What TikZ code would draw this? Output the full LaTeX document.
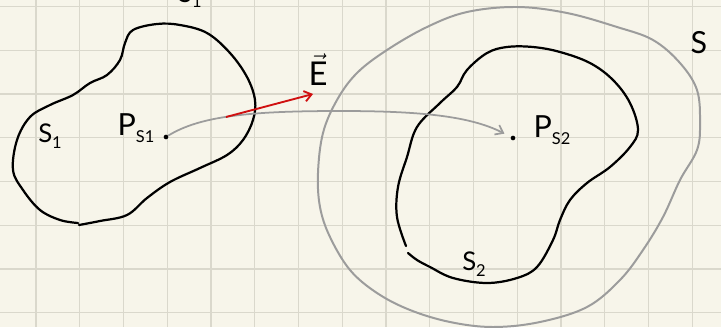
\documentclass[tikz,border=0pt]{standalone}
\usepackage{fontspec}
\setmainfont{Lato}
\usepackage{tikz}
\usetikzlibrary{arrows.meta}
\definecolor{paper}{HTML}{F7F5EA}
\definecolor{gridc}{HTML}{DAD8CC}
\definecolor{pencil}{HTML}{9C9C9C}
\definecolor{vecred}{HTML}{D01010}
\newcommand{\lowidx}[1]{\raisebox{-0.45ex}{\fontsize{14}{14}\selectfont #1}}

\begin{document}
\begin{tikzpicture}[
  x=0.03cm, y=-0.03cm,
  gridline/.style={draw=gridc, line width=0.9pt},
  rim/.style={line width=1.9pt, line cap=round, line join=round},
  outer/.style={draw=pencil, line width=1.7pt, line join=round},
  lbl/.style={font=\fontsize{22}{24}\selectfont, inner sep=0pt},
  big/.style={lbl, font=\fontsize{26}{28}\selectfont},
  pt/.style={circle, fill=black, inner sep=0pt, minimum size=4pt},
  flux/.style={-{Straight Barb[length=6pt,width=9pt]}, draw=pencil, line width=1.5pt},
  field/.style={-{Straight Barb[length=6pt,width=9pt]}, draw=vecred, line width=1.6pt},
]
\clip (0,0) rectangle (721,327);
\fill[paper] (0,0) rectangle (721,327);
% squared paper
\foreach \i in {0,...,15} \draw[gridline] ({36+43.75*\i},0) -- ++(0,327);
\foreach \j in {0,...,7} \draw[gridline] (0,{6.5+43.75*\j}) -- ++(721,0);

% big closed surface S
\draw[outer] plot[smooth cycle, tension=0.6] coordinates {
  (517,7) (567,13) (617,27) (653,40) (680,63) (697,90) (700,123) (697,150)
  (680,180) (663,217) (643,250) (620,280) (587,307) (540,322) (493,327)
  (450,322) (410,310) (377,293) (350,270) (330,237) (320,207) (318,173)
  (323,133) (337,100) (357,73) (387,50) (427,27) (467,12)};

% surface S1
\draw[rim] plot[smooth, tension=0.6] coordinates {
  (79,225) (100,221) (127,215) (147,198) (170,182) (200,168) (227,155)
  (243,140) (253,120) (255,100) (247,77) (230,53) (207,33) (180,25)
  (157,24) (133,30) (125,43) (120,60) (107,75) (90,83) (73,95) (50,105)
  (30,117) (17,140) (13,170) (23,190) (40,210) (60,220) (78,223)};

% surface S2
\draw[rim] plot[smooth, tension=0.6] coordinates {
  (406,246) (397,217) (398,187) (407,157) (417,127) (440,103) (457,87)
  (467,70) (487,53) (507,47) (533,47) (560,52) (590,63) (613,80) (630,103)
  (638,130) (630,147) (610,167) (587,183) (570,200) (560,220) (553,240)
  (537,267) (517,278) (487,283) (453,278) (430,267) (417,260) (408,253)};

\node[pt] (ps1) at (166,137) {};
\node[pt] (ps2) at (513,138) {};
\coordinate (etail) at (226,117);
\coordinate (ehead) at (313,94);

\draw[flux, shorten >=6pt] (ps1) .. controls (200,116) and (250,111) .. (340,111)
  .. controls (420,111) and (470,116) .. (ps2);
\draw[field] (etail) -- (ehead);

\node[lbl] (s1) at (50,136) {S\lowidx{1}};
\node[big] (ps1lbl) at (136,128) {P\lowidx{S1}};
\node[big] (ps2lbl) at (552,130) {P\lowidx{S2}};
\node[lbl] (s2) at (474,264) {S\lowidx{2}};
\node[big] (s) at (699,43) {S};
\node[big, font=\fontsize{28}{30}\selectfont] (e) at (318,70) {$\vec{\mbox{E}}$};
\node[lbl, anchor=base] (s1top) at (190,2) {S\lowidx{1}};
\end{tikzpicture}
\end{document}
